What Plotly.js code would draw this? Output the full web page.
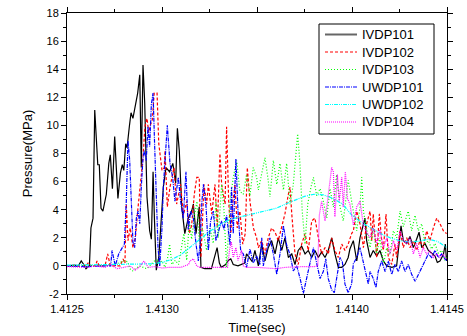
<!DOCTYPE html>
<html>
<head>
<meta charset="utf-8">
<script src="https://cdn.plot.ly/plotly-3.0.1.min.js"></script>
<style>
html,body{margin:0;padding:0;background:#fff;}
#chart{width:467px;height:336px;}
</style>
</head>
<body>
<div id="chart"></div>
<script>
// Time origin (s); times below are microseconds after it
const T0 = 1.4125;
const seriesNames = ['IVDP101','IVDP102','IVDP103','UWDP101','UWDP102','IVDP104'];
const xTickLabels = ['1.4125','1.4130','1.4135','1.4140','1.4145'];
const yTickLabels = ['-2','0','2','4','6','8','10','12','14','16','18'];

// IVDP101
const tIVDP101 = [0,40,60,75,88,100,112,118,126,137,146,162,170,179,189,207,220,228,239,251,268,281,291,299,309,316,328,337,347,360,372,383,391,400,409,421,435,444,453,460,470,483,491,500,507,521,540,557,572,581,591,604,620,638,656,665,679,696,705,725,760,780,790,802,812,835,850,862,875,900,935,945,960,975,989,1007,1025,1042,1059,1077,1095,1112,1130,1147,1165,1183,1200,1217,1235,1253,1270,1288,1305,1323,1340,1358,1375,1393,1410,1428,1446,1463,1480,1489,1507,1525,1542,1560,1568,1577,1595,1612,1630,1647,1665,1683,1710,1735,1753,1758,1770,1788,1805,1823,1840,1853,1867,1884,1902,1919,1937,1949,1963,1981,1991,1998];
const vIVDP101 = [0,0.05,0,0.35,0.1,-0.2,-0.05,0,2.7,3.4,11.1,7.2,7.2,4.1,3.9,5.1,7.3,7.9,5.5,9.2,4.8,6.6,7.2,6.8,8.7,8.4,9.9,10.9,10.5,11.4,12.3,13.6,7.0,14.3,11.6,4.9,2.5,1.9,6.7,3.4,-0.3,0.6,2.3,4.6,5.6,7.0,6.7,7.3,5.9,9.8,8.2,4.2,2.3,3.4,3.9,4.4,2.3,4.2,-0.1,-0.2,-0.2,0.8,1.3,0.2,-0.1,0.1,0.4,0.5,0.1,0,0.2,0.85,0.6,0.3,1.1,0,1.55,0.35,1.3,1.8,0.85,2.0,1.1,2.0,0.6,0.85,0.1,1.1,1.4,0.85,1.1,0.6,1.1,0.6,1.0,0.6,1.1,2.0,0.85,-0.1,-0.1,0.1,0.6,1.2,1.8,0.35,2.0,2.85,3.4,1.8,0.6,1.1,0.7,1.1,0.35,0.0,-0.1,0.0,2.0,2.85,1.8,1.6,2.1,1.3,1.9,2.4,1.3,1.6,1.1,0.9,0.7,0.25,0.35,0.8,1.55,0.35];

// IVDP102
const tIVDP102 = [0,100,114,125,150,158,170,200,214,228,280,295,305,312,321,333,347,360,372,386,400,410,421,430,438,449,459,474,483,500,512,516,528,542,563,577,598,612,630,644,656,670,683,696,705,721,735,744,762,779,791,805,814,832,840,851,862,872,884,896,910,925,938,949,963,981,998,1007,1025,1042,1059,1077,1095,1112,1130,1147,1165,1174,1183,1200,1217,1235,1253,1270,1288,1305,1323,1340,1358,1375,1393,1410,1428,1446,1463,1480,1498,1507,1525,1542,1560,1577,1595,1604,1612,1630,1644,1656,1665,1679,1691,1709,1726,1735,1753,1770,1788,1805,1823,1840,1858,1875,1893,1910,1928,1946,1963,1981,1998];
const vIVDP102 = [0,0,0.25,0,0,0.35,0,0,0.85,0,0,0.5,0.2,4.4,1.8,2.7,1.3,2.0,3.9,5.6,7.7,9.9,10.5,9.5,10.0,10.4,12.3,12.3,8.7,6.8,7.0,8.2,4.2,5.6,7.0,4.4,5.8,3.6,4.6,2.3,2.9,5.1,6.3,6.3,0.6,5.8,4.4,5.8,3.7,5.8,2.7,8.0,5.8,4.4,9.9,4.6,2.3,4.4,5.8,2.7,3.9,1.55,2.3,7.0,4.6,2.7,2.0,1.3,1.8,0.85,2.0,2.7,2.4,1.8,2.7,3.7,5.1,5.6,3.7,0.85,0.1,1.55,2.3,1.1,3.2,3.4,2.0,0.85,1.3,0.85,2.0,1.1,0.6,1.55,1.1,1.55,2.3,2.5,3.9,3.0,1.3,3.0,3.9,1.8,3.7,0.6,3.7,1.8,1.1,3.7,0.6,0.1,1.55,0.6,2.5,1.3,2.0,1.3,1.8,1.1,1.8,1.3,2.5,1.8,2.7,3.4,3.0,2.5,2.3];

// IVDP103
const tIVDP103 = [0,150,200,250,300,320,330,345,360,380,420,440,460,475,485,500,515,530,540,552,570,587,604,615,630,644,656,672,684,695,712,735,752,770,784,796,814,826,840,858,875,893,910,928,945,963,980,998,1007,1025,1042,1059,1068,1086,1104,1121,1139,1156,1174,1191,1214,1226,1238,1253,1267,1284,1297,1314,1332,1349,1367,1384,1402,1419,1437,1454,1467,1480,1498,1525,1542,1551,1560,1577,1595,1612,1630,1647,1665,1683,1700,1718,1735,1753,1770,1796,1814,1832,1849,1867,1884,1902,1919,1937,1954,1972,1989,2000];
const vIVDP103 = [0,0,0.05,0.1,0.35,0.3,-0.2,-0.35,-0.2,0.0,-0.2,0.1,0.35,0.4,0.2,0.35,-0.1,0.6,1.55,0.1,0.4,0.1,1.3,2.3,0.4,3.2,1.9,3.7,4.6,1.9,2.7,1.1,2.7,1.6,4.6,2.0,5.8,4.0,-0.1,4.6,6.3,7.5,5.3,5.1,6.5,5.0,7.0,6.3,5.4,6.5,7.7,6.1,4.9,7.5,5.8,7.3,5.4,7.3,4.4,5.8,9.4,7.3,3.9,1.55,4.4,5.6,6.3,5.0,5.5,4.6,3.4,5.5,4.2,6.5,4.2,3.2,4.6,6.1,4.6,2.5,4.2,6.3,3.9,2.5,1.3,2.7,0.9,2.0,0.1,1.3,0.8,2.5,2.0,3.9,2.8,3.9,2.5,3.6,2.5,3.0,1.6,1.8,1.2,1.6,0.9,1.1,0.4,0.7];

// UWDP101
const tUWDP101 = [0,100,200,230,237,254,272,289,302,312,321,330,338,347,356,365,374,383,391,400,407,417,426,435,444,453,461,470,479,488,500,507,514,528,542,556,568,586,598,612,626,638,651,665,679,691,700,710,718,732,744,756,770,784,796,814,826,840,858,866,875,889,900,914,928,945,963,980,998,1015,1025,1033,1051,1068,1086,1104,1121,1139,1156,1174,1191,1209,1226,1244,1261,1279,1297,1314,1332,1349,1362,1375,1393,1407,1419,1437,1449,1463,1480,1498,1507,1525,1542,1560,1577,1586,1595,1612,1626,1638,1656,1674,1691,1709,1726,1744,1761,1779,1796,1814,1832,1849,1867,1884,1902,1919,1937,1954,1972,1989,2000];
const vUWDP101 = [0,-0.05,0,0,1.1,0,0.85,1.2,1.55,4.6,8.9,7.5,4.4,1.7,1.3,3.4,3.9,3.0,5.6,7.7,8.2,7.5,9.9,8.5,11.5,12.3,8.7,5.1,1.3,0,2.7,5.6,7.3,10.0,7.3,6.3,4.6,6.3,4.6,3.4,6.7,2.6,3.9,3.4,1.55,0.35,1.5,4.6,5.8,4.2,1.1,3.2,3.9,1.8,2.4,3.2,2.6,3.6,1.5,5.6,2.3,7.6,3.9,1.1,0.85,-0.1,1.2,0.2,0.7,0.1,2.0,0,1.1,2.0,0.85,-0.6,0.85,2.85,1.5,0.8,-0.35,0,-0.85,-1.95,-0.9,0.3,1.3,0.2,-0.9,-0.4,0.5,-0.9,-1.7,-1.9,-0.9,0.6,0.3,-1.3,-1.9,-1.3,0.15,0.6,1.3,0.2,-0.6,-1.3,-0.4,-0.9,-1.55,-0.4,0.35,-0.4,0.35,-0.6,0.1,-0.4,0.35,-0.4,0.1,-0.6,-1.1,-0.6,-0.1,0.35,0.85,0.6,1.1,0.6,0.85,0.5,0.35];

// UWDP102
const tUWDP102 = [0,150,300,450,500,550,600,650,700,750,800,850,900,950,1000,1050,1100,1150,1200,1250,1300,1350,1400,1450,1500,1550,1600,1650,1700,1750,1800,1850,1900,1950,2000];
const vUWDP102 = [0.05,0.08,0.1,0.15,0.25,0.45,0.8,1.35,1.9,2.45,2.9,3.25,3.45,3.6,3.8,3.9,4.1,4.4,4.7,4.95,5.1,5.05,4.8,4.4,3.6,3.1,2.7,2.3,2.0,1.8,1.7,1.75,1.9,1.75,1.3];

// IVDP104
const tIVDP104 = [0,100,150,200,228,263,300,333,358,380,405,428,463,500,540,600,640,647,665,683,700,740,800,845,856,865,875,889,900,910,919,928,945,1000,1050,1100,1150,1200,1250,1300,1320,1328,1340,1358,1375,1393,1402,1410,1423,1433,1446,1454,1465,1476,1489,1507,1525,1542,1560,1577,1595,1612,1630,1647,1665,1683,1700,1718,1735,1753,1770,1788,1805,1823,1840,1858,1875,1893,1910,1928,1946,1963,1981,1998];
const vIVDP104 = [-0.05,-0.1,0,-0.1,0.1,-0.2,-0.1,0.0,-0.3,-0.1,0.35,-0.1,-0.05,-0.15,-0.1,-0.1,0.1,0.35,0.5,0,-0.1,-0.1,-0.1,-0.1,1.2,1.7,0.6,1.3,0.4,0.8,1.1,0.0,-0.1,-0.1,-0.15,-0.2,-0.1,-0.05,-0.05,-0.05,0.0,3.6,4.6,3.2,5.0,7.0,6.7,3.5,6.5,4.6,6.3,4.2,6.7,4.8,4.4,2.9,4.2,4.6,2.9,2.4,2.0,2.7,1.6,2.6,1.3,2.0,0.85,1.8,1.1,2.5,1.8,1.6,2.0,0.85,1.6,0.6,1.3,0.85,1.1,0.6,0.85,0.6,0.85,0.45];

const times = [tIVDP101,tIVDP102,tIVDP103,tUWDP101,tUWDP102,tIVDP104];
const values = [vIVDP101,vIVDP102,vIVDP103,vUWDP101,vUWDP102,vIVDP104];
const colors = ['#000000','#ff0000','#00ff00','#0000ff','#00ffff','#ff00ff'];
const dashes = ['solid','3px,2px','1px,2px','4px,1px,1px,1px','4px,1px,1px,1px,1px,1px','1px,1px'];
const legendColors = ['#666666','#ff0000','#00ff00','#0000ff','#00ffff','#ff00ff'];

const traces = seriesNames.map((n,i)=>({
  type:'scatter', mode:'lines', name:n,
  x: times[i].map(u=>T0+u*1e-6),
  y: values[i],
  line:{color:colors[i], width:1.2, dash:dashes[i]}
}));

// legend drawn as a framed box (plot area spans px 67..447 x 13..294)
const PX = p => (p-67)/380, PY = p => (294-p)/281;
const shapes = [{type:'rect', xref:'paper', yref:'paper', x0:PX(319), x1:PX(434), y0:PY(24), y1:PY(134),
                 line:{color:'#000', width:1}, fillcolor:'#fff', layer:'above'}];
const annotations = [];
const rowY = [34.5, 52, 69.5, 87, 104.5, 122];
seriesNames.forEach((n,i)=>{
  shapes.push({type:'line', xref:'paper', yref:'paper', x0:PX(325), x1:PX(357), y0:PY(rowY[i]), y1:PY(rowY[i]),
               line:{color:legendColors[i], width: i===0?2:1.2, dash:dashes[i]}, layer:'above'});
  annotations.push({xref:'paper', yref:'paper', x:PX(360), y:PY(rowY[i]), xanchor:'left', yanchor:'middle',
                    text:n, showarrow:false, font:{size:13, color:'#000'}});
});

const fontFam = 'Liberation Sans, Arial, sans-serif';
const layout = {
  width:467, height:336,
  margin:{l:67, r:20, t:13, b:42},
  paper_bgcolor:'#fff', plot_bgcolor:'#fff',
  font:{family:fontFam, size:11, color:'#000'},
  showlegend:false,
  shapes:shapes, annotations:annotations,
  xaxis:{range:[1.4125,1.4145], tickvals:xTickLabels.map(Number), ticktext:xTickLabels,
         ticks:'outside', ticklen:5, tickwidth:1, tickcolor:'#000',
         showline:true, linecolor:'#000', linewidth:1, mirror:'ticks',
         showgrid:false, zeroline:false,
         minor:{dtick:0.00025, tick0:1.4125, ticks:'outside', ticklen:3, tickcolor:'#000', showgrid:false},
         tickfont:{size:11},
         title:{text:'Time(sec)', font:{size:13}, standoff:8}},
  yaxis:{range:[-2,18], tickvals:yTickLabels.map(Number), ticktext:yTickLabels,
         ticks:'outside', ticklen:5, tickwidth:1, tickcolor:'#000',
         showline:true, linecolor:'#000', linewidth:1, mirror:'ticks',
         showgrid:false, zeroline:false,
         minor:{dtick:1, tick0:0, ticks:'outside', ticklen:3, tickcolor:'#000', showgrid:false},
         tickfont:{size:11},
         title:{text:'Pressure(MPa)', font:{size:13}, standoff:10}}
};
Plotly.newPlot('chart', traces, layout, {displayModeBar:false, staticPlot:true});
</script>
</body>
</html>
